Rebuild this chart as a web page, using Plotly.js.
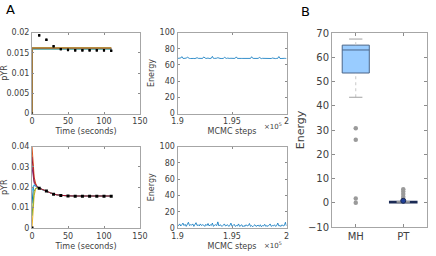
<!DOCTYPE html>
<html><head><meta charset="utf-8">
<script src="https://cdn.plot.ly/plotly-3.0.1.min.js"></script>
<style>html,body{margin:0;padding:0;background:#fff}#c{width:436px;height:256px}</style>
</head><body><div id="c"></div>
<script>
// ---------- data ----------
const colors = ['#0072bd','#d95319','#edb120','#7e2f8e','#77ac30','#4dbeee','#a2142f'];

// data points (black markers) for pYR panels
const obsTime = [0,10,20,30,40,50,60,70,80,90,100,110];
const obsTop  = [0,0.0193,0.0182,0.0166,0.0159,0.0157,0.0156,0.0156,0.0156,0.0156,0.0156,0.0155];
const obsTopErr = [0,0.0003,0.0003,0.0003,0.0003,0.0003,0.0003,0.0003,0.0003,0.0003,0.0003,0.0003];
const obsBot  = [0,0.0195,0.0182,0.0166,0.0160,0.0157,0.0156,0.0156,0.0156,0.0156,0.0156,0.0156];

// top-left model trajectories (MH): flat lines
const topTime = [0,0,110];
const topCurves = [
  [0,0.01595,0.01595],
  [0,0.01600,0.01600],
  [0,0.01605,0.01605],
  [0,0.01610,0.01610],
  [0,0.01615,0.01615],
  [0,0.01620,0.01620],
  [0,0.01612,0.01612]
];
const topColors = ['#0072bd','#4dbeee','#77ac30','#7e2f8e','#a2142f','#edb120','#8c7a4a'];

// bottom-left model trajectories (PT)
const botTime = [0,1,2,3,5,7,10,15,20,30,40,50,60,80,110];
const botCurves = [
  [0.012,0.017,0.0200,0.0210,0.0205,0.0200,0.0195,0.0187,0.0180,0.0166,0.0160,0.0158,0.0157,0.0157,0.0157],
  [0.040,0.033,0.0280,0.0250,0.0220,0.0205,0.0196,0.0188,0.0181,0.0166,0.0160,0.0158,0.0157,0.0157,0.0157],
  [0.000,0.008,0.0130,0.0160,0.0190,0.0198,0.0196,0.0188,0.0180,0.0166,0.0160,0.0158,0.0157,0.0157,0.0157],
  [0.030,0.026,0.0240,0.0220,0.0210,0.0200,0.0195,0.0187,0.0180,0.0166,0.0160,0.0158,0.0157,0.0157,0.0157],
  [0.006,0.012,0.0160,0.0180,0.0195,0.0198,0.0195,0.0187,0.0180,0.0166,0.0160,0.0158,0.0157,0.0157,0.0157],
  [0.018,0.020,0.0210,0.0212,0.0208,0.0202,0.0196,0.0188,0.0181,0.0166,0.0160,0.0158,0.0157,0.0157,0.0157],
  [0.035,0.029,0.0250,0.0230,0.0213,0.0203,0.0196,0.0188,0.0181,0.0166,0.0160,0.0158,0.0157,0.0157,0.0157]
];

// energy traces over MCMC steps 1.9e5 .. 2e5
const stepStart = 190000, stepSize = 100;
const energyMH = [68,68.3,67.9,68.5,70.2,68.1,68,67.8,68.4,69.5,68.2,68,67.9,68.1,68.6,68,67.8,68.2,68.9,68.1,68,68.3,67.9,68,69.8,68.2,68,68.1,68.5,67.9,68,68.2,70.5,68.1,68,67.8,68.3,68.9,68.1,68,67.9,68.2,68,69.3,68.1,68,68.4,67.8,68,68.2,67.9,68.1,68,68.3,69.9,68,67.8,68.1,68.2,68,68,67.9,68.2,68.6,68,68.1,67.8,68,70.1,68.2,68,67.9,68.1,68.4,68,69.2,68,67.8,68.1,68,68.3,68,67.9,68.2,68,68.1,67.9,68.5,68,68.2,67.8,68,68.1,70.3,68,67.9,68.2,68,68.1,68,67.9];
const energyPT = [4,3,5,2.5,4,6,3,4.5,2,5,7,3,4,3.5,5,2,4,6.5,3,4,2.5,5,3,4,3.5,2,4.5,3,5.5,2.5,4,3,6,2,3.5,4,3,7.5,2.5,4,3,2,3.5,5,2.5,3,4,2,3,6,2,3,4.5,2,3,2.5,5,2,3,4,1.5,3,2,4,2.5,3,5.5,2,3,1.5,3,4,2,2.5,3.5,2,4,1.5,3,2.5,4.5,2,3,2,3.5,5,2,3,2.5,4,2,3,6,2.5,3,2,4,2.5,3,7,2.5];

// box plot statistics (final energies)
const boxCats = ['MH','PT'];
const boxQ1 = [53.5, 0];
const boxMedian = [63, 0.3];
const boxQ3 = [65, 0.5];
const boxLowerWhisker = [43.5, 0];
const boxUpperWhisker = [67.5, 0.5];
const boxMean = [54.2, 0.8];
const outliersMH = [30.7, 26, 1.8, 0];
const outliersPT = [5.6, 4.6, 3.6, 2.5, 1.5];

// ---------- build ----------
const W = 436, H = 256;
const px = (a,b)=>[a/W,b/W];
const py = (top,bot)=>[1-bot/H,1-top/H];
const font = {family:'DejaVu Sans, sans-serif', size:8, color:'#404040'};
const lineCol = '#a6a6a6';
function ax(extra){
  return Object.assign({showline:true, linecolor:lineCol, linewidth:1, mirror:'ticks', ticks:'inside', ticklen:2, tickcolor:'#8c8c8c',
    showgrid:false, zeroline:false, tickfont:font, automargin:false}, extra);
}

const traces = [];
topCurves.forEach((c,i)=>traces.push({x:topTime, y:c, type:'scatter', mode:'lines', line:{color:topColors[i], width:1.3}, xaxis:'x', yaxis:'y', hoverinfo:'skip'}));
traces.push({x:obsTime, y:obsTop, type:'scatter', mode:'markers', marker:{color:'#000', size:2.2, symbol:'square'},
  error_y:{type:'data', array:obsTopErr, color:'#000', thickness:2, width:0}, xaxis:'x', yaxis:'y'});

botCurves.forEach((c,i)=>traces.push({x:botTime, y:c, type:'scatter', mode:'lines', line:{color:colors[i], width:1}, xaxis:'x3', yaxis:'y3', hoverinfo:'skip'}));
traces.push({x:obsTime, y:obsBot, type:'scatter', mode:'markers', marker:{color:'#000', size:3, symbol:'square'}, xaxis:'x3', yaxis:'y3'});

const stepsMH = energyMH.map((_,i)=>stepStart+i*stepSize);
const stepsPT = energyPT.map((_,i)=>stepStart+i*stepSize);
traces.push({x:stepsMH, y:energyMH, type:'scatter', mode:'lines', line:{color:'#0072bd', width:0.8}, xaxis:'x2', yaxis:'y2'});
traces.push({x:stepsPT, y:energyPT, type:'scatter', mode:'lines', line:{color:'#0072bd', width:0.8}, xaxis:'x4', yaxis:'y4'});

// box plot: whiskers (dotted) + caps
boxCats.forEach((c,i)=>{
  traces.push({x:[i,i], y:[boxQ3[i],boxUpperWhisker[i]], type:'scatter', mode:'lines', line:{color:'#c8c8c8', width:1, dash:'dot'}, xaxis:'x5', yaxis:'y5'});
  traces.push({x:[i,i], y:[boxLowerWhisker[i],boxQ1[i]], type:'scatter', mode:'lines', line:{color:'#c8c8c8', width:1, dash:'dot'}, xaxis:'x5', yaxis:'y5'});
  traces.push({x:[i-0.14,i+0.14], y:[boxUpperWhisker[i],boxUpperWhisker[i]], type:'scatter', mode:'lines', line:{color:'#a0a0a0', width:1}, xaxis:'x5', yaxis:'y5'});
  traces.push({x:[i-0.14,i+0.14], y:[boxLowerWhisker[i],boxLowerWhisker[i]], type:'scatter', mode:'lines', line:{color:'#a0a0a0', width:1}, xaxis:'x5', yaxis:'y5'});
});
traces.push({type:'box', x:[0], q1:[boxQ1[0]], median:[boxMedian[0]], q3:[boxQ3[0]], lowerfence:[boxQ1[0]], upperfence:[boxQ3[0]],
  width:0.57, fillcolor:'#99ccff', line:{color:'#4a6588', width:1}, boxpoints:false, xaxis:'x5', yaxis:'y5', whiskerwidth:0});
traces.push({type:'box', x:[1], q1:[boxQ1[1]], median:[boxMedian[1]], q3:[boxQ3[1]], lowerfence:[boxQ1[1]], upperfence:[boxQ3[1]],
  width:0.57, fillcolor:'#99ccff', line:{color:'#1b2b55', width:1.5}, boxpoints:false, xaxis:'x5', yaxis:'y5', whiskerwidth:0});
traces.push({x:outliersMH.map(()=>0), y:outliersMH, type:'scatter', mode:'markers', marker:{color:'#9a9a9a', size:4.5}, xaxis:'x5', yaxis:'y5'});
traces.push({x:outliersPT.map(()=>1), y:outliersPT, type:'scatter', mode:'markers', marker:{color:'#9a9a9a', size:4.5}, xaxis:'x5', yaxis:'y5'});
traces.push({x:[0], y:[boxMean[0]], type:'scatter', mode:'markers', marker:{color:'rgba(0,0,0,0)', size:5, symbol:'circle-open', line:{color:'#3c5a80', width:1.2}}, xaxis:'x5', yaxis:'y5'});
traces.push({x:[1], y:[boxMean[1]], type:'scatter', mode:'markers', marker:{color:'#1f3f9a', size:5, line:{color:'#1b2b55', width:1}}, xaxis:'x5', yaxis:'y5'});

const timeTitle = {text:'Time (seconds)', font:font, standoff:3};
const stepTitle = {text:'MCMC steps', font:font, standoff:3};
const layout = {
  width:W, height:H, margin:{l:0,r:0,t:0,b:0}, showlegend:false, paper_bgcolor:'#fff', plot_bgcolor:'#fff',
  font:font,
  xaxis: ax({domain:px(32,140), range:[0,150], tickvals:[0,50,100,150], title:timeTitle, anchor:'y'}),
  yaxis: ax({domain:py(32.5,113.5), range:[0,0.02], tickvals:[0,0.005,0.01,0.015,0.02], ticktext:['0','0.005','0.01','0.015','0.02'], title:{text:'pYR', font:font, standoff:4}, anchor:'x'}),
  xaxis2: ax({domain:px(177.5,286.5), range:[190000,200000], tickvals:[190000,195000,200000], ticktext:['1.9','1.95','2'], title:stepTitle, anchor:'y2'}),
  yaxis2: ax({domain:py(32.5,113.5), range:[0,100], tickvals:[0,20,40,60,80,100], title:{text:'Energy', font:font, standoff:3}, anchor:'x2'}),
  xaxis3: ax({domain:px(32,140), range:[0,150], tickvals:[0,50,100,150], title:timeTitle, anchor:'y3'}),
  yaxis3: ax({domain:py(146.5,228), range:[0,0.04], tickvals:[0,0.01,0.02,0.03,0.04], ticktext:['0','0.01','0.02','0.03','0.04'], title:{text:'pYR', font:font, standoff:4}, anchor:'x3'}),
  xaxis4: ax({domain:px(177.5,286.5), range:[190000,200000], tickvals:[190000,195000,200000], ticktext:['1.9','1.95','2'], title:stepTitle, anchor:'y4'}),
  yaxis4: ax({domain:py(146.5,228), range:[0,100], tickvals:[0,20,40,60,80,100], title:{text:'Energy', font:font, standoff:3}, anchor:'x4'}),
  xaxis5: ax({domain:px(332,427), range:[-0.5,1.5], tickvals:[0,1], ticktext:boxCats, tickfont:{family:font.family,size:10,color:'#404040'}, ticklen:3, anchor:'y5'}),
  yaxis5: ax({domain:py(33,227), range:[-10,70], tickvals:[-10,0,10,20,30,40,50,60,70], tickfont:{family:font.family,size:10,color:'#404040'}, ticklen:3,
     title:{text:'Energy', font:{family:font.family,size:11,color:'#404040'}, standoff:1}, anchor:'x5'}),
  annotations:[
    {text:'A', x:10/W, y:1-9/H, xref:'paper', yref:'paper', showarrow:false, xanchor:'center', yanchor:'middle', font:{family:font.family,size:13,color:'#000'}},
    {text:'B', x:305/W, y:1-11/H, xref:'paper', yref:'paper', showarrow:false, xanchor:'center', yanchor:'middle', font:{family:font.family,size:13,color:'#000'}},
    {text:'×10<sup>5</sup>', x:284/W, y:1-126/H, xref:'paper', yref:'paper', showarrow:false, xanchor:'right', yanchor:'middle', font:{family:font.family,size:7,color:'#404040'}},
    {text:'×10<sup>5</sup>', x:284/W, y:1-245/H, xref:'paper', yref:'paper', showarrow:false, xanchor:'right', yanchor:'middle', font:{family:font.family,size:7,color:'#404040'}}
  ]
};
Plotly.newPlot('c', traces, layout, {staticPlot:true, displayModeBar:false});
</script></body></html>
